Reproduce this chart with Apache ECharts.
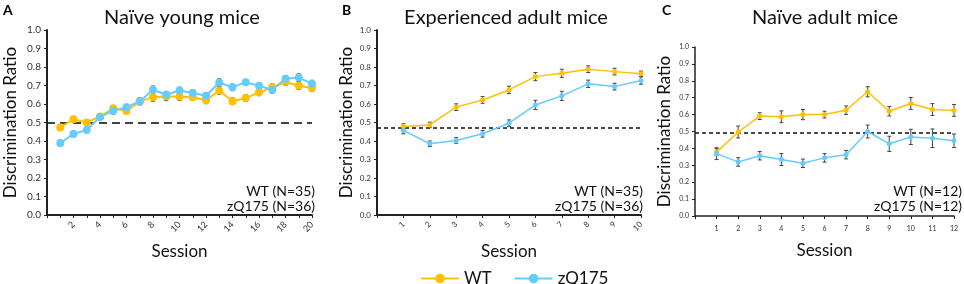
<!DOCTYPE html>
<html>
<head>
<meta charset="utf-8">
<script src="https://cdn.jsdelivr.net/npm/echarts@6/dist/echarts.min.js"></script>
<style>
  html, body { margin: 0; padding: 0; background: #fff; }
  #chart { width: 964px; height: 284px; }
</style>
</head>
<body>
<div id="chart"></div>
<script>
// --- data ---
const sessionsA = [1,2,3,4,5,6,7,8,9,10,11,12,13,14,15,16,17,18,19,20];
const wtA    = [0.473,0.518,0.500,0.532,0.577,0.562,0.614,0.637,0.640,0.640,0.637,0.620,0.673,0.615,0.632,0.663,0.690,0.720,0.698,0.686];
const wtErrA = [0.015,0.012,0.015,0.012,0.012,0.015,0.018,0.022,0.022,0.020,0.018,0.018,0.020,0.018,0.018,0.018,0.018,0.018,0.020,0.018];
const zqA    = [0.389,0.438,0.460,0.530,0.563,0.583,0.614,0.677,0.650,0.673,0.660,0.645,0.716,0.690,0.718,0.698,0.677,0.736,0.743,0.710];
const zqErrA = [0.015,0.015,0.015,0.012,0.018,0.015,0.018,0.020,0.018,0.018,0.015,0.015,0.020,0.018,0.015,0.018,0.018,0.018,0.020,0.018];

const sessionsB = [1,2,3,4,5,6,7,8,9,10];
const wtB    = [0.478,0.487,0.583,0.622,0.676,0.748,0.766,0.788,0.775,0.763];
const wtErrB = [0.015,0.015,0.018,0.018,0.020,0.022,0.022,0.018,0.018,0.015];
const zqB    = [0.457,0.385,0.403,0.439,0.496,0.595,0.644,0.709,0.694,0.727];
const zqErrB = [0.018,0.015,0.015,0.018,0.018,0.025,0.025,0.020,0.018,0.020];

const sessionsC = [1,2,3,4,5,6,7,8,9,10,11,12];
const wtC    = [0.378,0.497,0.591,0.587,0.600,0.600,0.626,0.735,0.620,0.666,0.630,0.625];
const wtErrC = [0.020,0.035,0.020,0.035,0.030,0.020,0.025,0.030,0.028,0.035,0.035,0.035];
const zqC    = [0.369,0.320,0.357,0.334,0.312,0.344,0.363,0.500,0.427,0.468,0.460,0.445];
const zqErrC = [0.035,0.025,0.025,0.035,0.025,0.025,0.025,0.038,0.045,0.045,0.055,0.040];

const chanceA = 0.5, chanceB = 0.47, chanceC = 0.495;
const titles = ["Naïve young mice", "Experienced adult mice", "Naïve adult mice"];
const nLabels = [["WT (N=35)", "zQ175 (N=36)"], ["WT (N=35)", "zQ175 (N=36)"], ["WT (N=12)", "zQ175 (N=12)"]];

const WT_COLOR = "#FFC000";
const ZQ_COLOR = "#66CCFF";
const FONT = "Lato";

let myChart = echarts.init(document.getElementById("chart"));

function pts(xs, ys) {
  return xs.map((x, i) => [x, ys[i]]);
}
function errData(xs, ys, es) {
  return xs.map((x, i) => [x, ys[i] - es[i], ys[i] + es[i]]);
}
function errSeries(idx, xs, ys, es) {
  return {
    type: "custom",
    xAxisIndex: idx,
    yAxisIndex: idx,
    silent: true,
    z: 1,
    renderItem: function (params, api) {
      const lo = api.coord([api.value(0), api.value(1)]);
      const hi = api.coord([api.value(0), api.value(2)]);
      const w = 2;
      const style = { stroke: "#444", lineWidth: 1 };
      return {
        type: "group",
        children: [
          { type: "line", shape: { x1: lo[0], y1: lo[1], x2: hi[0], y2: hi[1] }, style: style },
          { type: "line", shape: { x1: lo[0] - w, y1: lo[1], x2: lo[0] + w, y2: lo[1] }, style: style },
          { type: "line", shape: { x1: hi[0] - w, y1: hi[1], x2: hi[0] + w, y2: hi[1] }, style: style }
        ]
      };
    },
    data: errData(xs, ys, es)
  };
}
function lineSeries(idx, name, color, xs, ys, sym, lw, chance, dash) {
  const s = {
    name: name,
    type: "line",
    xAxisIndex: idx,
    yAxisIndex: idx,
    symbol: "circle",
    symbolSize: sym,
    z: 3,
    lineStyle: { color: color, width: lw },
    itemStyle: { color: color },
    data: pts(xs, ys)
  };
  if (chance != null) {
    s.markLine = {
      silent: true,
      symbol: "none",
      label: { show: false },
      lineStyle: { color: dash.color, type: dash.type, width: dash.width },
      data: [{ yAxis: chance }],
      z: 0
    };
  }
  return s;
}

const grids = [
  { left: 47, top: 30, width: 265, height: 185 },
  { left: 377, top: 30, width: 264, height: 185 },
  { left: 695, top: 47, width: 259, height: 169 }
];
const maxX = [20, 10, 12];
const yLabelSize = [10, 8, 7];
const axisW = [2, 2, 1.5];

const xAxes = grids.map((g, i) => ({
  type: "value",
  gridIndex: i,
  min: 0,
  max: maxX[i],
  interval: 1,
  name: "Session",
  nameLocation: "middle",
  nameGap: i === 2 ? 26 : 28,
  nameTextStyle: { fontFamily: FONT, fontSize: 17, color: "#111" },
  axisLine: { onZero: false, lineStyle: { color: "#222", width: axisW[i] } },
  axisTick: { show: true, length: 3, inside: false, lineStyle: { color: "#222", width: 1 } },
  splitLine: { show: false },
  axisLabel: {
    fontFamily: FONT,
    color: "#333",
    fontSize: i === 2 ? 7 : (i === 0 ? 9 : 8),
    rotate: i === 2 ? 0 : 45,
    margin: i === 2 ? 9 : 8,
    showMinLabel: true,
    formatter: function (v) {
      if (v === 0) return "";
      if (i === 0) return v % 2 === 0 ? String(v) : "";
      return String(v);
    }
  }
}));

const yAxes = grids.map((g, i) => ({
  type: "value",
  gridIndex: i,
  min: 0,
  max: 1,
  interval: 0.1,
  name: "Discrimination Ratio",
  nameLocation: "middle",
  nameRotate: 90,
  nameGap: i === 0 ? 28 : 22,
  nameTextStyle: { fontFamily: FONT, fontSize: 17, color: "#111" },
  axisLine: { show: true, lineStyle: { color: "#222", width: axisW[i] } },
  axisTick: { show: true, length: 3, lineStyle: { color: "#222", width: 1 } },
  splitLine: { show: false },
  axisLabel: {
    fontFamily: FONT,
    color: "#333",
    fontSize: yLabelSize[i],
    margin: 6,
    formatter: function (v) { return v.toFixed(1); }
  }
}));

const dashA = { color: "#444", type: [8, 5], width: 2 };
const dashBC = { color: "#111", type: [4, 3], width: 1.5 };

const series = [
  errSeries(0, sessionsA, wtA, wtErrA),
  errSeries(0, sessionsA, zqA, zqErrA),
  lineSeries(0, "WT", WT_COLOR, sessionsA, wtA, 8, 2, chanceA, dashA),
  lineSeries(0, "zQ175", ZQ_COLOR, sessionsA, zqA, 8, 2),
  errSeries(1, sessionsB, wtB, wtErrB),
  errSeries(1, sessionsB, zqB, zqErrB),
  lineSeries(1, "WT", WT_COLOR, sessionsB, wtB, 5, 1.5, chanceB, dashBC),
  lineSeries(1, "zQ175", ZQ_COLOR, sessionsB, zqB, 5, 1.5),
  errSeries(2, sessionsC, wtC, wtErrC),
  errSeries(2, sessionsC, zqC, zqErrC),
  lineSeries(2, "WT", WT_COLOR, sessionsC, wtC, 5, 1.5, chanceC, dashBC),
  lineSeries(2, "zQ175", ZQ_COLOR, sessionsC, zqC, 5, 1.5)
];

const titleCenters = [177, 501, 820];
const panelLetters = [["A", 3], ["B", 342], ["C", 662]];
const nRight = [315, 643, 962];

const graphics = [];
panelLetters.forEach(p => {
  graphics.push({
    type: "text", left: p[1], top: 3,
    style: { text: p[0], fontFamily: FONT, fontSize: 14, fontWeight: "bold", fill: "#000" }
  });
});
nLabels.forEach((lab, i) => {
  graphics.push({
    type: "text", x: nRight[i], y: 184,
    style: { text: lab[0], fontFamily: FONT, fontSize: 14, fill: "#111", align: "right" }
  });
  graphics.push({
    type: "text", x: nRight[i], y: 199,
    style: { text: lab[1], fontFamily: FONT, fontSize: 14, fill: "#111", align: "right" }
  });
});

myChart.setOption({
  animation: false,
  backgroundColor: "#fff",
  title: titles.map((t, i) => ({
    text: t,
    left: titleCenters[i],
    top: 3,
    textAlign: "center",
    textStyle: { fontFamily: FONT, fontSize: 20, fontWeight: "normal", color: "#111" }
  })),
  legend: {
    data: ["WT", "zQ175"],
    left: 415,
    top: 265,
    itemWidth: 38,
    itemHeight: 12,
    itemGap: 22,
    textStyle: { fontFamily: FONT, fontSize: 17, color: "#111" }
  },
  grid: grids,
  xAxis: xAxes,
  yAxis: yAxes,
  series: series,
  graphic: graphics
});
</script>
</body>
</html>
